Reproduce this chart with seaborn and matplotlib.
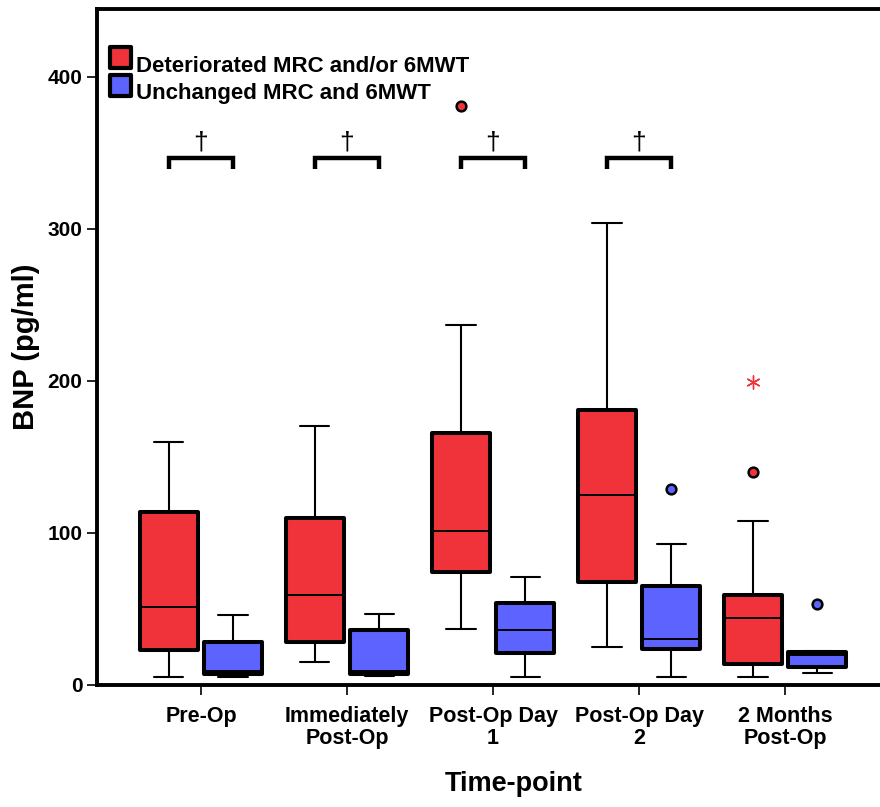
import matplotlib
matplotlib.use("Agg")
import matplotlib.pyplot as plt
from matplotlib.patches import Rectangle
import seaborn as sns
import pandas as pd

# ---- data (BNP, pg/ml) ----
timepoints = ["Pre-Op", "Immediately\nPost-Op", "Post-Op Day\n1", "Post-Op Day\n2", "2 Months\nPost-Op"]
groups = ["Deteriorated MRC and/or 6MWT", "Unchanged MRC and 6MWT"]

det_whislo = [5, 15, 37, 25, 5]
det_q1 = [23, 28, 74, 68, 14]
det_med = [51, 59, 101, 125, 44]
det_q3 = [114, 110, 166, 181, 59]
det_whishi = [160, 170, 237, 304, 108]
det_outliers = [[], [], [381], [], [140]]
det_extremes = [[], [], [], [], [199]]

unc_whislo = [5, 6, 5, 5, 8]
unc_q1 = [7, 7, 21, 24, 12]
unc_med = [9.5, 9, 36, 30, 19.5]
unc_q3 = [28, 36, 54, 65, 22]
unc_whishi = [46, 47, 71, 93, 22.5]
unc_outliers = [[], [], [], [129], [53]]

# time-points with a significant between-group difference
sig_timepoints = [0, 1, 2, 3]

colors = {"Deteriorated MRC and/or 6MWT": "#F0333A", "Unchanged MRC and 6MWT": "#5C63FF"}

sns.set_style("ticks")
plt.rcParams["font.family"] = ["Liberation Sans", "DejaVu Sans"]
plt.rcParams["font.weight"] = "bold"
for key in ["text.color", "axes.labelcolor", "xtick.color", "ytick.color", "axes.edgecolor"]:
    plt.rcParams[key] = "black"

W, H = 880, 807
fig = plt.figure(figsize=(W / 100, H / 100), dpi=100, facecolor="white")
ax = fig.add_axes([97 / W, (H - 685) / H, (W - 97) / W, (685 - 9) / H])

offset, width = 0.22, 0.40


def stats_for(lo, q1, med, q3, hi, fl):
    return [dict(whislo=a, q1=b, med=c, q3=d, whishi=e, fliers=f)
            for a, b, c, d, e, f in zip(lo, q1, med, q3, hi, fl)]


series = [
    (groups[0], stats_for(det_whislo, det_q1, det_med, det_q3, det_whishi, det_outliers), -offset),
    (groups[1], stats_for(unc_whislo, unc_q1, unc_med, unc_q3, unc_whishi, unc_outliers), offset),
]

for name, stats, dx in series:
    col = colors[name]
    ax.bxp(
        stats,
        positions=[i + dx for i in range(len(timepoints))],
        widths=width,
        capwidths=0.20,
        patch_artist=True,
        showfliers=True,
        boxprops=dict(facecolor=col, edgecolor="black", linewidth=2.9, joinstyle="round"),
        whiskerprops=dict(color="black", linewidth=1.5),
        capprops=dict(color="black", linewidth=1.5),
        medianprops=dict(color="black", linewidth=1.4),
        flierprops=dict(marker="o", markerfacecolor=col, markeredgecolor="black",
                        markersize=7, markeredgewidth=1.8),
        manage_ticks=False,
        zorder=3,
    )

# extreme values (asterisks)
ext_rows = [(i - offset, v) for i, vals in enumerate(det_extremes) for v in vals]
ext_df = pd.DataFrame(ext_rows, columns=["pos", "BNP"])
sns.scatterplot(data=ext_df, x="pos", y="BNP", ax=ax, marker=(6, 2, 0), s=90,
                color=colors[groups[0]], linewidth=1.0, zorder=4, legend=False)

# significance brackets with daggers
for i in sig_timepoints:
    x0, x1 = i - offset, i + offset
    ax.plot([x0, x0, x1, x1], [339.5, 346.3, 346.3, 339.5], color="black",
            linewidth=3.2, solid_joinstyle="miter", solid_capstyle="butt", zorder=3)
    ax.text(i, 356.5, "\u2020", ha="center", va="center", fontsize=19,
            fontweight="normal", color="black")

ax.set_xlim(-0.712, 4.65)
ax.set_ylim(0, 444.5)
ax.set_xticks(range(len(timepoints)))
ax.set_xticklabels(timepoints, fontsize=15.5, fontweight="bold", linespacing=1.1)
ax.set_yticks([0, 100, 200, 300, 400])
ax.set_yticklabels(["0", "100", "200", "300", "400"], fontsize=15, fontweight="bold")
ax.tick_params(axis="both", direction="out", length=7, width=1.2, color="black")
ax.tick_params(axis="x", pad=8)
ax.tick_params(axis="y", pad=3.5)

for side in ["left", "top", "bottom"]:
    ax.spines[side].set_linewidth(2.8)
    ax.spines[side].set_color("black")
ax.spines["right"].set_visible(False)

ax.set_ylabel("BNP (pg/ml)", fontsize=21, fontweight="bold")
ax.yaxis.label.set_ha("center")
ax.yaxis.label.set_va("center")
ax.yaxis.set_label_coords(-0.091, 0.5)
ax.set_xlabel("Time-point", fontsize=19.5, fontweight="bold")
ax.xaxis.label.set_va("center")
ax.xaxis.set_label_coords(0.5326, -0.146)

# legend: filled squares with the group names beside them
for (cy, base), g in zip([(57.0, 72.0), (85.5, 99.5)], groups):
    side = 21.0
    x0, y0 = 120 - side / 2, H - (cy + side / 2)
    fig.add_artist(Rectangle((x0 / W, y0 / H), side / W, side / H, transform=fig.transFigure,
                             facecolor=colors[g], edgecolor="black", linewidth=3.0,
                             joinstyle="round"))
    fig.text(136 / W, 1 - base / H, g, fontsize=16, fontweight="bold",
             ha="left", va="baseline", color="black")

fig.savefig("out.png", dpi=100, facecolor="white")
